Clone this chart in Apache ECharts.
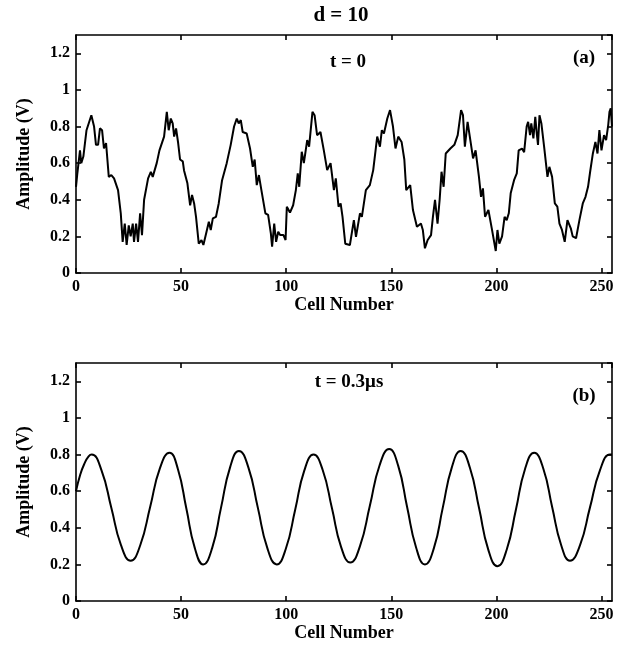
<!DOCTYPE html>
<html>
<head>
<meta charset="utf-8">
<script src="https://cdn.jsdelivr.net/npm/echarts@6/dist/echarts.min.js"></script>
<style>
html,body{margin:0;padding:0;background:#fff;}
#chart{width:624px;height:662px;}
</style>
</head>
<body>
<div id="chart"></div>
<script>
// ---- data ----
const xTicks = [0, 50, 100, 150, 200, 250];
const yTicks = [0, 0.2, 0.4, 0.6, 0.8, 1, 1.2];

// (a) t = 0 : noisy signal
const topCells = [0,0.6,1.9,2.5,3.5,5,7.3,8.6,9.5,10.5,11.4,12.4,13.3,14.3,15.6,16.8,18.1,20,21.3,22.2,23.2,24.1,25.1,26,27,27.6,28.6,29.5,30.5,31.4,32.4,34.3,35.6,36.5,38.4,39.7,41.9,43.2,44.1,45.1,46,46.7,47.6,48.6,49.5,50.8,51.4,53,54.3,55.2,56.2,57.1,58.4,59.7,60.6,61.9,63.2,64.1,65.1,66.6,67.9,69.5,71.7,73.6,75.2,76.5,77.4,78.4,79.3,81.2,82.8,84.1,85,86,87,88.2,90.1,91.4,92.7,93.3,94.3,95.2,96.2,97.1,98.7,99.7,100.3,101.8,103.3,104.6,105.5,106.2,107.4,108.4,110,110.9,112.5,113.5,114.7,116.3,117.9,119.5,121.1,122.7,123.6,124.9,125.9,126.8,128.1,130.3,132.2,133.2,135.1,136,137.9,139.8,141.4,143.3,144.6,145.5,146.5,148.1,149.4,150.8,152,153.3,154.9,156.2,157.1,159,160.3,162.2,164.1,165,166,167.3,168.9,169.8,170.8,172,173,173.9,174.9,175.9,176.8,178.1,180,181.6,183.2,184.1,185,186.3,187.6,188.9,190.1,191.7,192.7,193.6,194.6,196.2,197.8,199.7,200.5,201.4,202.7,203.9,204.9,205.9,206.8,208.4,209.7,210.6,212.2,213.2,214.4,215.1,216,216.6,217.6,218.5,219.2,219.8,220.5,221.4,222.7,224.3,225.2,226.5,227.8,229,230,231.2,232.5,233.8,235.4,236.3,237.9,239.5,241.1,242.4,243.6,244.6,245.9,247.1,248.1,249,250,251.2,252.2,253.2,253.8,254.4,255];
const topValues = [0.47,0.54,0.67,0.60,0.636,0.78,0.862,0.80,0.70,0.70,0.79,0.78,0.68,0.71,0.525,0.535,0.517,0.453,0.326,0.17,0.27,0.153,0.26,0.20,0.27,0.17,0.27,0.17,0.326,0.207,0.40,0.517,0.553,0.525,0.60,0.67,0.745,0.88,0.78,0.844,0.817,0.745,0.79,0.71,0.62,0.61,0.56,0.49,0.37,0.426,0.38,0.307,0.16,0.18,0.153,0.216,0.28,0.235,0.298,0.307,0.38,0.507,0.60,0.70,0.80,0.844,0.817,0.835,0.77,0.762,0.68,0.58,0.62,0.48,0.535,0.453,0.326,0.317,0.216,0.144,0.27,0.17,0.225,0.207,0.207,0.18,0.362,0.33,0.37,0.453,0.544,0.471,0.662,0.60,0.726,0.69,0.88,0.862,0.753,0.77,0.67,0.562,0.60,0.453,0.517,0.362,0.38,0.307,0.16,0.153,0.289,0.198,0.326,0.307,0.453,0.48,0.562,0.745,0.69,0.78,0.762,0.844,0.89,0.80,0.68,0.745,0.716,0.62,0.453,0.48,0.344,0.253,0.27,0.235,0.135,0.18,0.207,0.307,0.40,0.27,0.40,0.553,0.471,0.653,0.653,0.68,0.70,0.753,0.89,0.862,0.69,0.826,0.726,0.626,0.67,0.525,0.416,0.462,0.307,0.344,0.244,0.12,0.235,0.16,0.20,0.307,0.289,0.326,0.435,0.507,0.544,0.67,0.68,0.66,0.80,0.826,0.753,0.817,0.735,0.853,0.762,0.70,0.862,0.817,0.69,0.525,0.58,0.525,0.38,0.362,0.27,0.235,0.17,0.289,0.244,0.20,0.19,0.289,0.38,0.416,0.471,0.553,0.653,0.716,0.653,0.78,0.67,0.753,0.726,0.808,0.88,0.90,0.80];

// (b) t = 0.3 us : smooth signal
const bottomCells = [0,2,4,6,7.5,12.1,16.8,21.4,26,30.6,35.3,39.9,44.5,48.5,52.5,56.5,60.5,64.8,69,73.3,77.5,82,86.5,91,95.5,99.9,104.3,108.6,113,117.4,121.8,126.1,130.5,135.1,139.8,144.4,149,153.3,157.5,161.8,166,170.3,174.5,178.8,183,187.4,191.8,196.1,200.5,204.9,209.3,213.6,218,222.3,226.5,230.8,235,239.8,244.5,249.3,254,255];
const bottomValues = [0.60,0.69,0.75,0.79,0.80,0.715,0.51,0.305,0.22,0.306,0.515,0.724,0.81,0.72,0.505,0.29,0.20,0.29,0.51,0.73,0.82,0.73,0.51,0.29,0.20,0.288,0.50,0.712,0.80,0.714,0.505,0.296,0.21,0.30,0.52,0.74,0.83,0.738,0.515,0.292,0.20,0.29,0.51,0.73,0.82,0.728,0.505,0.282,0.19,0.28,0.50,0.72,0.81,0.724,0.515,0.306,0.22,0.305,0.51,0.715,0.80,0.80];

const pair = (xs, ys) => xs.map((x, i) => [x, ys[i]]);

const FONT = '"Liberation Serif", "Times New Roman", serif';
const axisLineStyle = {color: '#000', width: 1.6};
const grids = [
  {left: 76, width: 536, top: 35, height: 238},
  {left: 76, width: 536, top: 363, height: 238}
];

function xAxisMain(gi) {
  return {
    type: 'value', gridIndex: gi, min: 0, max: 255, interval: 50,
    name: 'Cell Number', nameLocation: 'middle', nameGap: 22,
    nameTextStyle: {fontFamily: FONT, fontWeight: 'bold', fontSize: 18, color: '#000'},
    axisLine: {show: true, onZero: false, lineStyle: axisLineStyle},
    axisTick: {show: true, inside: true, length: 5, lineStyle: axisLineStyle},
    axisLabel: {fontFamily: FONT, fontWeight: 'bold', fontSize: 16, color: '#000', margin: 6,
      showMaxLabel: false,
      formatter: v => xTicks.indexOf(v) >= 0 ? String(v) : ''},
    splitLine: {show: false}
  };
}
function xAxisTop(gi) {
  return {
    type: 'value', gridIndex: gi, position: 'top', min: 0, max: 255, interval: 50,
    axisLine: {show: true, onZero: false, lineStyle: axisLineStyle},
    axisTick: {show: true, inside: true, length: 5, lineStyle: axisLineStyle},
    axisLabel: {show: false}, splitLine: {show: false}
  };
}
function yAxisMain(gi) {
  return {
    type: 'value', gridIndex: gi, min: 0, max: 1.3, interval: 0.2,
    name: 'Amplitude (V)', nameLocation: 'middle', nameGap: 43,
    nameTextStyle: {fontFamily: FONT, fontWeight: 'bold', fontSize: 18, color: '#000'},
    axisLine: {show: true, onZero: false, lineStyle: axisLineStyle},
    axisTick: {show: true, inside: true, length: 5, lineStyle: axisLineStyle},
    axisLabel: {fontFamily: FONT, fontWeight: 'bold', fontSize: 16, color: '#000', margin: 6,
      showMaxLabel: false,
      formatter: v => {
        const m = yTicks.find(t => Math.abs(t - v) < 1e-6);
        return m === undefined ? '' : String(m);
      }},
    splitLine: {show: false}
  };
}
function yAxisRight(gi) {
  return {
    type: 'value', gridIndex: gi, position: 'right', min: 0, max: 1.3, interval: 0.2,
    axisLine: {show: true, onZero: false, lineStyle: axisLineStyle},
    axisTick: {show: true, inside: true, length: 5, lineStyle: axisLineStyle},
    axisLabel: {show: false}, splitLine: {show: false}
  };
}

const textStyle = (fs) => ({fontFamily: FONT, fontWeight: 'bold', fontSize: fs, fill: '#000'});

const chart = echarts.init(document.getElementById('chart'), null, {renderer: 'canvas'});
chart.setOption({
  backgroundColor: '#fff',
  animation: false,
  grid: grids,
  xAxis: [xAxisMain(0), xAxisTop(0), xAxisMain(1), xAxisTop(1)],
  yAxis: [yAxisMain(0), yAxisRight(0), yAxisMain(1), yAxisRight(1)],
  series: [
    {type: 'line', xAxisIndex: 0, yAxisIndex: 0, data: pair(topCells, topValues),
     showSymbol: false, lineStyle: {color: '#000', width: 2}, clip: true},
    {type: 'line', xAxisIndex: 2, yAxisIndex: 2, data: pair(bottomCells, bottomValues),
     smooth: 0.5, showSymbol: false, lineStyle: {color: '#000', width: 2}, clip: true}
  ],
  graphic: [
    {type: 'text', x: 341, y: 16, style: Object.assign({text: 'd = 10', align: 'center', verticalAlign: 'middle'}, textStyle(21))},
    {type: 'text', x: 348, y: 62, style: Object.assign({text: 't = 0', align: 'center', verticalAlign: 'middle'}, textStyle(19))},
    {type: 'text', x: 584, y: 58, style: Object.assign({text: '(a)', align: 'center', verticalAlign: 'middle'}, textStyle(19))},
    {type: 'text', x: 349, y: 382, style: Object.assign({text: 't = 0.3μs', align: 'center', verticalAlign: 'middle'}, textStyle(19))},
    {type: 'text', x: 584, y: 396, style: Object.assign({text: '(b)', align: 'center', verticalAlign: 'middle'}, textStyle(19))}
  ]
});
</script>
</body>
</html>
